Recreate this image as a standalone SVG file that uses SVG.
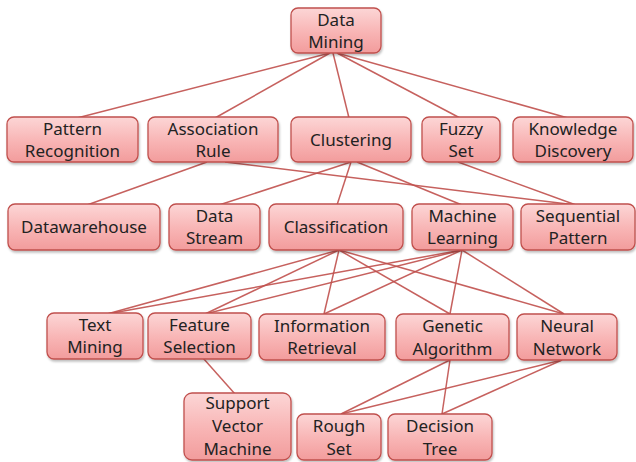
<svg xmlns="http://www.w3.org/2000/svg" width="636" height="462" viewBox="0 0 636 462">
<style>
.n rect{fill:url(#g);stroke:#c0504d;stroke-width:1.3;filter:url(#sh)}
.n text{font-family:"Noto Sans","Open Sans",sans-serif;font-size:17px;fill:#222;text-anchor:middle}
#edges line{stroke:#c0504d;stroke-width:1.5;opacity:0.9}
</style>
<defs>
<linearGradient id="g" x1="0" y1="0" x2="0" y2="1">
<stop offset="0" stop-color="#fcd6d6"/>
<stop offset="0.55" stop-color="#f8b4b4"/>
<stop offset="1" stop-color="#f29c9c"/>
</linearGradient>
<filter id="sh" x="-10%" y="-10%" width="130%" height="140%">
<feDropShadow dx="1" dy="2" stdDeviation="1.2" flood-color="#000" flood-opacity="0.25"/>
</filter>
</defs>
<rect width="636" height="462" fill="#fff"/>
<g id="edges">
<line x1="330" y1="53" x2="77" y2="118"/>
<line x1="330" y1="53" x2="215" y2="118"/>
<line x1="333" y1="53" x2="349" y2="118"/>
<line x1="337" y1="53" x2="460" y2="118"/>
<line x1="337" y1="53" x2="568" y2="118"/>
<line x1="207" y1="162" x2="87" y2="205"/>
<line x1="225" y1="162" x2="576" y2="205"/>
<line x1="351" y1="162" x2="219" y2="205"/>
<line x1="351" y1="162" x2="337" y2="205"/>
<line x1="357" y1="162" x2="462" y2="205"/>
<line x1="458" y1="162" x2="576" y2="205"/>
<line x1="339" y1="250" x2="107" y2="314"/>
<line x1="339" y1="250" x2="205" y2="314"/>
<line x1="339" y1="250" x2="324" y2="314"/>
<line x1="339" y1="250" x2="450" y2="314"/>
<line x1="339" y1="250" x2="564" y2="314"/>
<line x1="462" y1="250" x2="107" y2="314"/>
<line x1="462" y1="250" x2="205" y2="314"/>
<line x1="462" y1="250" x2="324" y2="314"/>
<line x1="462" y1="250" x2="450" y2="314"/>
<line x1="462" y1="250" x2="564" y2="314"/>
<line x1="203" y1="358" x2="235" y2="394"/>
<line x1="450" y1="360" x2="341" y2="414"/>
<line x1="450" y1="360" x2="442" y2="414"/>
<line x1="562" y1="360" x2="341" y2="414"/>
<line x1="562" y1="360" x2="442" y2="414"/>
</g>
<g id="data-mining" class="n"><rect x="291" y="8" width="90" height="45" rx="7"/><text x="336" y="26">Data</text><text x="336" y="48">Mining</text></g>
<g id="pattern-recognition" class="n"><rect x="7" y="117" width="131" height="45" rx="7"/><text x="72.5" y="135">Pattern</text><text x="72.5" y="157">Recognition</text></g>
<g id="association-rule" class="n"><rect x="148" y="117" width="130" height="45" rx="7"/><text x="213" y="135">Association</text><text x="213" y="157">Rule</text></g>
<g id="clustering" class="n"><rect x="291" y="117" width="120" height="45" rx="7"/><text x="351" y="146">Clustering</text></g>
<g id="fuzzy-set" class="n"><rect x="422" y="117" width="78" height="45" rx="7"/><text x="461" y="135">Fuzzy</text><text x="461" y="157">Set</text></g>
<g id="knowledge-discovery" class="n"><rect x="513" y="117" width="120" height="45" rx="7"/><text x="573" y="135">Knowledge</text><text x="573" y="157">Discovery</text></g>
<g id="datawarehouse" class="n"><rect x="8" y="204" width="152" height="46" rx="7"/><text x="84" y="233">Datawarehouse</text></g>
<g id="data-stream" class="n"><rect x="169" y="204" width="91" height="46" rx="7"/><text x="214.5" y="222">Data</text><text x="214.5" y="244">Stream</text></g>
<g id="classification" class="n"><rect x="269" y="204" width="134" height="46" rx="7"/><text x="336" y="233">Classification</text></g>
<g id="machine-learning" class="n"><rect x="412" y="204" width="101" height="46" rx="7"/><text x="462.5" y="222">Machine</text><text x="462.5" y="244">Learning</text></g>
<g id="sequential-pattern" class="n"><rect x="521" y="204" width="114" height="46" rx="7"/><text x="578" y="222">Sequential</text><text x="578" y="244">Pattern</text></g>
<g id="text-mining" class="n"><rect x="47" y="313" width="96" height="46" rx="7"/><text x="95" y="331">Text</text><text x="95" y="353">Mining</text></g>
<g id="feature-selection" class="n"><rect x="148" y="313" width="103" height="46" rx="7"/><text x="199.5" y="331">Feature</text><text x="199.5" y="353">Selection</text></g>
<g id="information-retrieval" class="n"><rect x="259" y="314" width="126" height="46" rx="7"/><text x="322" y="332">Information</text><text x="322" y="354">Retrieval</text></g>
<g id="genetic-algorithm" class="n"><rect x="396" y="314" width="113" height="46" rx="7"/><text x="452.5" y="332">Genetic</text><text x="452.5" y="355">Algorithm</text></g>
<g id="neural-network" class="n"><rect x="517" y="314" width="100" height="46" rx="7"/><text x="567" y="332">Neural</text><text x="567" y="355">Network</text></g>
<g id="support-vector-machine" class="n"><rect x="184" y="393" width="107" height="67" rx="8"/><text x="237.5" y="409">Support</text><text x="237.5" y="432">Vector</text><text x="237.5" y="455">Machine</text></g>
<g id="rough-set" class="n"><rect x="297" y="414" width="84" height="46" rx="7"/><text x="339" y="432">Rough</text><text x="339" y="455">Set</text></g>
<g id="decision-tree" class="n"><rect x="388" y="414" width="104" height="46" rx="7"/><text x="440" y="432">Decision</text><text x="440" y="455">Tree</text></g>
</svg>
